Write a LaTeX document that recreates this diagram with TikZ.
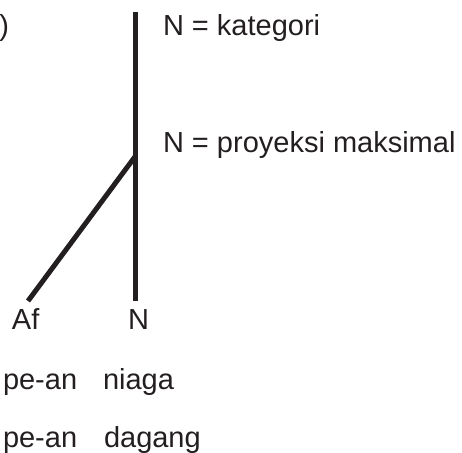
\documentclass[tikz,border=0pt]{standalone}
\usepackage{fontspec}
\setmainfont{Liberation Sans}
\definecolor{ink}{HTML}{231F20}
\begin{document}
\begin{tikzpicture}[x=1pt,y=-1pt,
  lbl/.style={inner sep=0pt,outer sep=0pt,anchor=base west,text=ink,font=\fontsize{29}{35}\selectfont},
  branch/.style={draw=ink,line width=5pt,line cap=butt}]
\useasboundingbox (0,0) rectangle (462,452);
% labels
\node[lbl,anchor=base east] (paren) at (9,35) {)};
\node[lbl] (kat) at (163,35) {N = kategori};
\node[lbl] (proy) at (163,152) {N = proyeksi maksimal};
\node[lbl] (af) at (12,329) {Af};
\node[lbl] (n) at (128,329) {N};
\node[lbl] (pe1) at (3,389) {pe-an};
\node[lbl] (niaga) at (103,389) {niaga};
\node[lbl] (pe2) at (3,447) {pe-an};
\node[lbl] (dagang) at (104,447) {dagang};
% tree
\coordinate (top) at (135.5,12);
\coordinate (mid) at (135.5,156);
\coordinate (botN) at (135.5,301);
\coordinate (botAf) at (28,301);
\draw[branch] (top) -- (botN);
\draw[branch] (mid) -- (botAf);
\end{tikzpicture}
\end{document}
